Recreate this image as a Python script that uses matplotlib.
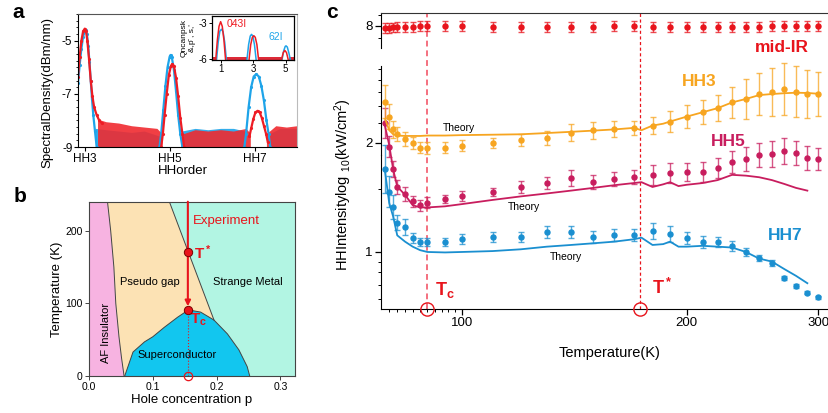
import numpy as np
import matplotlib
matplotlib.use("Agg")
import matplotlib.pyplot as plt
from matplotlib.transforms import blended_transform_factory
from matplotlib.ticker import FixedLocator, FixedFormatter, NullFormatter, MultipleLocator

plt.rcParams['font.family'] = ['Liberation Sans', 'DejaVu Sans']
plt.rcParams['mathtext.fontset'] = 'custom'
plt.rcParams['mathtext.rm'] = 'Liberation Sans'
plt.rcParams['mathtext.bf'] = 'Liberation Sans:bold'
plt.rcParams['mathtext.it'] = 'Liberation Sans:italic'

# ---------------- panel a: spectra (harmonic order vs dBm/nm) ----------------
blue_order = [2.84, 2.88, 2.92, 2.96, 3.0, 3.02, 3.05, 3.08, 3.11, 3.14, 3.17, 3.2, 3.24, 3.28, np.nan,
              4.76, 4.8, 4.85, 4.9, 4.95, 5.0, 5.02, 5.05, 5.1, 5.15, 5.2, 5.25, 5.3, np.nan,
              6.76, 6.8, 6.86, 6.92, 6.98, 7.04, 7.1, 7.16, 7.22, 7.28, 7.33, 7.37]
blue_dbm = [-6.6, -5.9, -5.3, -4.85, -4.65, -4.62, -4.75, -5.2, -5.8, -6.5, -7.2, -7.8, -8.4, -9.0, np.nan,
            -9.0, -8.5, -7.6, -6.7, -6.0, -5.6, -5.54, -5.62, -6.1, -6.9, -7.8, -8.5, -9.0, np.nan,
            -9.0, -8.5, -7.5, -6.75, -6.35, -6.26, -6.35, -6.7, -7.25, -8.0, -8.5, -9.0]
red_order = [2.84, 2.88, 2.92, 2.96, 3.0, 3.03, 3.06, 3.1, 3.14, 3.18, 3.22, 3.28, 3.34, 3.4, np.nan,
             4.8, 4.84, 4.88, 4.93, 4.98, 5.03, 5.06, 5.1, 5.15, 5.2, 5.25, 5.3, 5.34, np.nan,
             6.88, 6.92, 6.97, 7.02, 7.07, 7.12, 7.17, 7.22, 7.27, 7.31]
red_dbm = [-6.37, -5.6, -5.0, -4.65, -4.55, -4.65, -5.0, -5.7, -6.5, -7.1, -7.5, -7.8, -8.0, -8.1, np.nan,
           -9.0, -8.5, -7.8, -7.0, -6.3, -5.95, -5.88, -5.95, -6.4, -7.1, -7.9, -8.5, -9.0, np.nan,
           -8.6, -8.3, -7.95, -7.7, -7.64, -7.7, -7.9, -8.2, -8.5, -8.8]

# noise floor envelopes (upper edge of the dense noise, floor at -9)
blue_noise_x = [[3.25, 3.5, 3.8, 4.1, 4.4, 4.78], [5.28, 5.6, 5.9, 6.2, 6.5, 6.78], [7.35, 7.6, 8.0]]
blue_noise_top = [[-8.3, -8.35, -8.4, -8.45, -8.4, -8.6], [-8.4, -8.3, -8.35, -8.3, -8.3, -8.4], [-8.5, -8.3, -8.3]]
red_noise_x = [[3.3, 3.5, 3.8, 4.1, 4.4, 4.7, 4.82], [5.32, 5.6, 5.9, 6.2, 6.5, 6.8, 6.9], [7.28, 7.5, 7.75, 8.0]]
red_noise_top = [[-7.95, -8.05, -8.1, -8.2, -8.25, -8.3, -8.5], [-8.5, -8.35, -8.4, -8.35, -8.4, -8.3, -8.5],
                 [-8.5, -8.2, -8.25, -8.2]]
a_ticks = [3, 5, 7]
a_ticklabels = ['HH3', 'HH5', 'HH7']

# inset
inset_red_x = [0.7, 0.8, 0.9, 1.0, 1.1, 1.2, 1.3, np.nan, 2.75, 2.85, 2.95, 3.04, 3.13, 3.23, 3.33, np.nan,
               4.75, 4.85, 4.95, 5.05, 5.15]
inset_red_y = [-6.0, -4.4, -3.3, -2.92, -3.3, -4.4, -6.0, np.nan, -6.0, -4.8, -4.2, -4.07, -4.2, -4.8, -6.0, np.nan,
               -6.0, -5.45, -5.28, -5.45, -6.0]
inset_blue_x = [0.75, 0.85, 0.95, 1.05, 1.15, 1.25, 1.35, np.nan, 2.62, 2.72, 2.82, 2.9, 2.98, 3.08, 3.18, np.nan,
                4.78, 4.88, 4.97, 5.02, 5.1, 5.2, 5.28]
inset_blue_y = [-6.0, -4.6, -3.7, -3.54, -3.75, -4.6, -6.0, np.nan, -6.0, -4.8, -4.1, -3.96, -4.1, -4.8, -6.0, np.nan,
                -6.0, -5.3, -4.95, -4.9, -5.0, -5.5, -6.0]
inset_noise_x = [[0.45, 0.72], [1.3, 2.65], [3.3, 4.78], [5.2, 5.53]]
inset_noise_top = -5.8

# ---------------- panel b: phase diagram ----------------
af_p = [0.029, 0.034, 0.039, 0.042, 0.047, 0.051, 0.055]
af_T = [240, 200, 150, 100, 54, 25, 0]
dome_p = [0.056, 0.069, 0.087, 0.100, 0.118, 0.139, 0.156, 0.175, 0.196, 0.217, 0.235, 0.248, 0.252]
dome_T = [0, 33, 47, 54, 67, 81, 91, 88, 77, 58, 36, 13, 0]
tstar_p = [0.126, 0.196]
tstar_T = [240, 77]
p_exp = 0.155
T_star_b = 171
T_c_b = 91

# ---------------- panel c: intensity vs temperature ----------------
temps = [79, 80, 81, 82, 84, 86, 88, 90, 95, 100, 110, 120, 130, 140, 150, 160, 170, 180, 190, 200,
         210, 220, 230, 240, 250, 260, 270, 280, 290, 300]
midir = [7.8, 7.82, 7.85, 7.87, 7.9, 7.92, 7.95, 7.95, 7.95, 7.95, 7.92, 7.92, 7.92, 7.92, 7.92, 7.95,
         7.95, 7.92, 7.92, 7.9, 7.9, 7.9, 7.88, 7.9, 7.92, 7.95, 7.97, 8.0, 8.0, 7.98]
midir_err = 0.055
hh3 = [3.15, 2.67, 2.32, 2.20, 2.09, 2.00, 1.90, 1.89, 1.90, 1.94, 2.00, 2.07, 2.12, 2.24, 2.30, 2.34,
       2.36, 2.42, 2.53, 2.67, 2.82, 2.93, 3.12, 3.24, 3.41, 3.49, 3.60, 3.51, 3.41, 3.41]
hh3_err = [0.20, 0.15, 0.10, 0.08, 0.08, 0.07, 0.06, 0.07, 0.06, 0.06, 0.06, 0.07, 0.08, 0.10, 0.10, 0.09,
           0.08, 0.10, 0.12, 0.13, 0.14, 0.15, 0.18, 0.24, 0.26, 0.30, 0.33, 0.32, 0.30, 0.27]
hh5 = [4.1, 3.17, 2.49, 2.03, 1.89, 1.74, 1.67, 1.72, 1.78, 1.85, 1.94, 2.05, 2.12, 2.26, 2.15, 2.23,
       2.27, 2.33, 2.39, 2.40, 2.41, 2.52, 2.69, 2.76, 2.90, 2.93, 3.04, 2.95, 2.81, 2.77]
hh5_err = [0.18, 0.12, 0.09, 0.08, 0.08, 0.06, 0.06, 0.06, 0.045, 0.056, 0.045, 0.068, 0.068, 0.092, 0.08,
           0.08, 0.08, 0.116, 0.116, 0.104, 0.116, 0.116, 0.128, 0.14, 0.14, 0.153, 0.153, 0.14, 0.14, 0.128]
hh7 = [2.48, 1.94, 1.63, 1.38, 1.32, 1.16, 1.11, 1.11, 1.12, 1.15, 1.18, 1.18, 1.24, 1.24, 1.18, 1.21,
       1.21, 1.26, 1.22, 1.16, 1.11, 1.11, 1.07, 1.00, 0.94, 0.89, 0.75, 0.69, 0.64, 0.61]
hh7_err = [0.30, 0.18, 0.14, 0.09, 0.09, 0.056, 0.045, 0.045, 0.045, 0.056, 0.056, 0.056, 0.068, 0.068,
           0.068, 0.068, 0.068, 0.092, 0.092, 0.068, 0.068, 0.056, 0.056, 0.045, 0.033, 0.033, 0.022,
           0.022, 0.017, 0.017]

theory_T = [79, 80, 81, 82, 84, 86, 88, 90, 95, 100, 110, 120, 130, 140, 150, 160, 170, 174, 180, 186,
            190, 195, 200, 210, 220, 230, 240, 250, 260, 270, 280, 290, 300]
hh3_theory = [2.6, 2.3, 2.2, 2.17, 2.16, 2.16, 2.16, 2.17, 2.17, 2.18, 2.19, 2.2, 2.23, 2.26, 2.29, 2.32,
              2.36, 2.30, 2.42, 2.47, 2.53, 2.60, 2.67, 2.80, 2.93, 3.12, 3.24, 3.38, 3.42, 3.45, 3.47,
              3.46, 3.43]
hh5_theory = [3.95, 3.23, 2.46, 2.05, 1.87, 1.67, 1.63, 1.63, 1.65, 1.69, 1.77, 1.84, 1.90, 1.96, 2.02,
              2.08, 2.13, 2.15, 2.04, 2.10, 2.15, 2.06, 2.09, 2.13, 2.20, 2.33, 2.31, 2.27, 2.20, 2.11,
              2.02, 1.96, np.nan]
hh7_theory = [2.4, 1.71, 1.47, 1.2, 1.12, 1.06, 1.02, 1.0, 0.995, 1.0, 1.01, 1.03, 1.06, 1.08, 1.10,
              1.12, 1.15, 1.17, 1.08, 1.09, 1.12, 1.06, 1.06, 1.07, 1.06, 1.05, 1.0, 0.93, 0.90, 0.83,
              0.77, 0.71, np.nan]
T_c = 90
T_star = 173

RED = '#e8141c'
ORANGE = '#f7a520'
CRIMSON = '#c81d5e'
BLUE_C = '#1a8fd0'
SPEC_RED = '#ee1c24'
SPEC_BLUE = '#1ea4e9'

W, H = 829, 413


def box(left, top, right, bottom):
    return [left / W, 1 - bottom / H, (right - left) / W, (bottom - top) / H]


def fpos(x, y):
    return x / W, 1 - y / H


fig = plt.figure(figsize=(W / 100, H / 100), dpi=100)

# ---------------- panel a ----------------
ax_a = fig.add_axes(box(78, 14, 297, 147))
for xs, tops in zip(blue_noise_x, blue_noise_top):
    ax_a.fill_between(xs, -9, tops, color=SPEC_BLUE, alpha=0.9, lw=0)
ax_a.plot(blue_order, blue_dbm, color=SPEC_BLUE, lw=1.6, marker='.', ms=2.5)
for xs, tops in zip(red_noise_x, red_noise_top):
    ax_a.fill_between(xs, -9, tops, color='#f02a30', alpha=0.9, lw=0)
ax_a.plot(red_order, red_dbm, color=SPEC_RED, lw=1.6, marker='.', ms=2.5)
ax_a.set_xlim(2.84, 8.0)
ax_a.set_ylim(-9, -4)
ax_a.set_xticks(a_ticks)
ax_a.set_xticklabels(a_ticklabels, fontsize=8.5)
ax_a.set_yticks([-9, -7, -5])
ax_a.set_yticklabels(['-9', '-7', '-5'], fontsize=8.5)
ax_a.yaxis.set_minor_locator(MultipleLocator(0.25))
ax_a.tick_params(direction='out', length=3, width=0.8, pad=1)
ax_a.tick_params(which='minor', length=1.5, width=0.6)
ax_a.spines['top'].set_color('#555555')
ax_a.spines['right'].set_color('#bbbbbb')
fig.text(*fpos(47, 92), 'SpectralDensity(dBm/nm)', rotation=90, ha='center', va='center', fontsize=9.5)
fig.text(*fpos(183, 171), 'HHorder', ha='center', va='center', fontsize=9.5)
fig.text(*fpos(18, 13), 'a', fontsize=15, fontweight='bold', ha='center', va='center')

ax_in = fig.add_axes(box(211.7, 15.7, 294.3, 60))
for xs in inset_noise_x:
    ax_in.fill_between(xs, -6.06, inset_noise_top, color=SPEC_BLUE, alpha=0.8, lw=0)
    ax_in.fill_between(xs, -6.06, inset_noise_top - 0.05, color=SPEC_RED, alpha=0.9, lw=0)
ax_in.plot(inset_blue_x, inset_blue_y, color=SPEC_BLUE, lw=1.1)
ax_in.plot(inset_red_x, inset_red_y, color=SPEC_RED, lw=1.1)
ax_in.set_xlim(0.45, 5.53)
ax_in.set_ylim(-6.06, -2.43)
ax_in.set_xticks([1, 3, 5])
ax_in.set_xticklabels(['1', '3', '5'], fontsize=7)
ax_in.set_yticks([-6, -3])
ax_in.set_yticklabels(['-6', '-3'], fontsize=7)
ax_in.tick_params(direction='out', length=2, width=0.7, pad=1)
for s in ax_in.spines.values():
    s.set_linewidth(0.9)
ax_in.text(0.185, 0.81, '043I', color=SPEC_RED, fontsize=7.5, transform=ax_in.transAxes, va='center')
ax_in.text(0.77, 0.53, '62I', color=SPEC_BLUE, fontsize=7.5, transform=ax_in.transAxes, ha='center', va='center')
fig.text(*fpos(184, 38), 'Qncanpsk', rotation=90, ha='center', va='center', fontsize=6)
fig.text(*fpos(193, 38), "&,p\u0302 , s,'", rotation=90, ha='center', va='center', fontsize=6)

# ---------------- panel b ----------------
ax_b = fig.add_axes(box(89, 201.7, 295, 376))
ax_b.set_xlim(0, 0.323)
ax_b.set_ylim(0, 240)
ax_b.set_facecolor('#b2f5e3')
pink_p = [0] + af_p + [0]
pink_T = [240] + af_T + [0]
ax_b.fill(pink_p, pink_T, color='#f7b3e1', lw=0)
k_top = dome_p.index(0.196)
tan_p = af_p + dome_p[:k_top + 1] + [tstar_p[0]]
tan_T = af_T + dome_T[:k_top + 1] + [tstar_T[0]]
ax_b.fill(tan_p, tan_T, color='#fce2b4', lw=0)
ax_b.fill(dome_p, dome_T, color='#12c6ef', lw=0)
ax_b.plot(af_p, af_T, color='#444444', lw=0.7)
ax_b.plot(dome_p, dome_T, color='#444444', lw=0.7)
ax_b.plot(tstar_p, tstar_T, color='#444444', lw=0.7)
ax_b.annotate('', xy=(p_exp, T_c_b + 5), xytext=(p_exp, 240),
              arrowprops=dict(arrowstyle='-|>', color=RED, lw=1.5, mutation_scale=8, shrinkA=0, shrinkB=0))
ax_b.plot([p_exp, p_exp], [0, T_c_b], ls=':', color=RED, lw=0.8)
ax_b.plot([p_exp, p_exp], [T_star_b, T_c_b], 'o', ms=6, mfc=RED, mec='#7a0000', mew=0.7, zorder=5)
ax_b.plot([p_exp], [0], 'o', ms=6, mfc='none', mec=RED, mew=0.9, clip_on=False, zorder=5)
ax_b.text(0.1626, 214, 'Experiment', color=RED, fontsize=9.5, va='center')
ax_b.text(0.165, 170, r'$\mathbf{T^*}$', color=RED, fontsize=11, va='center')
ax_b.text(0.159, 77, r'$\mathbf{T_c}$', color=RED, fontsize=11, va='center')
ax_b.text(0.096, 130, 'Pseudo gap', fontsize=8, ha='center', va='center')
ax_b.text(0.249, 130, 'Strange Metal', fontsize=8, ha='center', va='center')
ax_b.text(0.027, 59, 'AF Insulator', fontsize=8, ha='center', va='center', rotation=90)
ax_b.text(0.1375, 29, 'Superconductor', fontsize=8, ha='center', va='center')
ax_b.set_xticks([0.0, 0.1, 0.2, 0.3])
ax_b.set_xticklabels(['0.0', '0.1', '0.2', '0.3'], fontsize=7.5)
ax_b.set_yticks([0, 100, 200])
ax_b.set_yticklabels(['0', '100', '200'], fontsize=7.5)
ax_b.tick_params(direction='out', length=3, width=0.7, pad=1.5, color='#444444')
for s in ax_b.spines.values():
    s.set_linewidth(0.8)
    s.set_color('#444444')
ax_b.set_xlabel('Hole concentration p', fontsize=9.5, labelpad=1)
ax_b.set_ylabel('Temperature (K)', fontsize=9.5, labelpad=2)
fig.text(*fpos(20, 197), 'b', fontsize=15, fontweight='bold', ha='center', va='center')

# ---------------- panel c ----------------
ax_bot = fig.add_axes(box(381, 155, 829, 308.5))
ax_mid = fig.add_axes(box(381, 66, 829, 155))
ax_top = fig.add_axes(box(381, 13, 829, 48))
for ax in (ax_bot, ax_mid, ax_top):
    ax.set_xscale('log')
    ax.set_yscale('log')
    ax.set_xlim(78, 310)
    ax.patch.set_alpha(0)
    ax.spines['right'].set_visible(False)
    ax.tick_params(direction='out', length=4, width=0.9, labelsize=9.5, pad=2)
    ax.tick_params(which='minor', length=2.2, width=0.7)
ax_bot.set_ylim(0.538, 2.897)
ax_mid.set_ylim(1.753, 4.65)
ax_top.set_ylim(6.27, 9.19)
ax_bot.spines['top'].set_visible(False)
ax_mid.spines['top'].set_visible(False)
ax_mid.spines['bottom'].set_visible(False)
ax_top.spines['bottom'].set_visible(False)
ax_top.spines['top'].set_color('#333333')

for ax, major, minor in ((ax_bot, [1], [0.6, 0.7, 0.8, 0.9, 2]),
                         (ax_mid, [2], [2.5, 3, 3.5, 4, 4.5]),
                         (ax_top, [8], [7, 9])):
    ax.yaxis.set_major_locator(FixedLocator(major))
    ax.yaxis.set_major_formatter(FixedFormatter([str(m) for m in major]))
    ax.yaxis.set_minor_locator(FixedLocator(minor))
    ax.yaxis.set_minor_formatter(NullFormatter())
for ax in (ax_mid, ax_top):
    ax.xaxis.set_major_locator(FixedLocator([]))
    ax.xaxis.set_minor_locator(FixedLocator([]))
ax_bot.xaxis.set_major_locator(FixedLocator([100, 200, 300]))
ax_bot.xaxis.set_major_formatter(FixedFormatter(['100', '200', '300']))
ax_bot.xaxis.set_minor_locator(FixedLocator(list(range(80, 100, 2))))
ax_bot.xaxis.set_minor_formatter(NullFormatter())


def draw_series(ax, vals, rel_err, color):
    v = np.array(vals, dtype=float)
    e = np.broadcast_to(np.array(rel_err, dtype=float), v.shape)
    yerr = [v - v / (1 + e), v * e]
    cont = ax.errorbar(temps, v, yerr=yerr, fmt='none', ecolor=color, elinewidth=1.0,
                       capsize=2.3, capthick=1.0, alpha=0.75)
    for group in cont.lines:
        if group is None:
            continue
        for art in (group if isinstance(group, tuple) else (group,)):
            art.set_clip_on(False)
    ax.plot(temps, v, 'o', ms=3.6, color=color, clip_on=False, zorder=4)


draw_series(ax_top, midir, midir_err, RED)
draw_series(ax_mid, hh3, hh3_err, ORANGE)
draw_series(ax_bot, hh5, hh5_err, CRIMSON)
draw_series(ax_bot, hh7, hh7_err, BLUE_C)
ax_mid.plot(theory_T, hh3_theory, color=ORANGE, lw=1.3, clip_on=False, zorder=3)
ax_bot.plot(theory_T, hh5_theory, color=CRIMSON, lw=1.3, clip_on=False, zorder=3)
ax_bot.plot(theory_T, hh7_theory, color=BLUE_C, lw=1.3, clip_on=False, zorder=3)

trans = blended_transform_factory(ax_bot.transData, ax_bot.transAxes)
y_up = (308.5 - 13) / (308.5 - 155)
ax_bot.plot([T_c, T_c], [0, y_up], transform=trans, color='#f4707f', lw=1.4, ls=(0, (3, 2)),
            clip_on=False, zorder=1)
ax_bot.plot([T_star, T_star], [0, y_up], transform=trans, color=RED, lw=0.9, ls=(0, (2.5, 2)),
            clip_on=False, zorder=1)
ax_bot.plot([T_c, T_star], [0, 0], 'o', transform=trans, ms=9.5, mfc='none', mec=RED, mew=1.0,
            clip_on=False, zorder=6)

fig.text(*fpos(782, 47), 'mid-IR', color=RED, fontsize=12.5, fontweight='bold', ha='center', va='center')
fig.text(*fpos(699, 81), 'HH3', color=ORANGE, fontsize=12.5, fontweight='bold', ha='center', va='center')
fig.text(*fpos(728, 142), 'HH5', color=CRIMSON, fontsize=12.5, fontweight='bold', ha='center', va='center')
fig.text(*fpos(785, 235), 'HH7', color=BLUE_C, fontsize=12.5, fontweight='bold', ha='center', va='center')
fig.text(*fpos(459, 128), 'Theory', fontsize=7.5, ha='center', va='center')
fig.text(*fpos(524, 207), 'Theory', fontsize=7.5, ha='center', va='center')
fig.text(*fpos(566, 257), 'Theory', fontsize=7.5, ha='center', va='center')
fig.text(*fpos(435, 290), r'$\mathbf{T_c}$', color=RED, fontsize=13, va='center')
fig.text(*fpos(652, 288), r'$\mathbf{T^*}$', color=RED, fontsize=13, va='center')
fig.text(*fpos(343, 185), r'HHIntensitylog $_{10}$(kW/cm$^2$)', rotation=90, ha='center', va='center',
         fontsize=10.5)
fig.text(*fpos(610, 353), 'Temperature(K)', ha='center', va='center', fontsize=10.5)
fig.text(*fpos(332, 12), 'c', fontsize=15, fontweight='bold', ha='center', va='center')

fig.savefig('out.png', dpi=100)
